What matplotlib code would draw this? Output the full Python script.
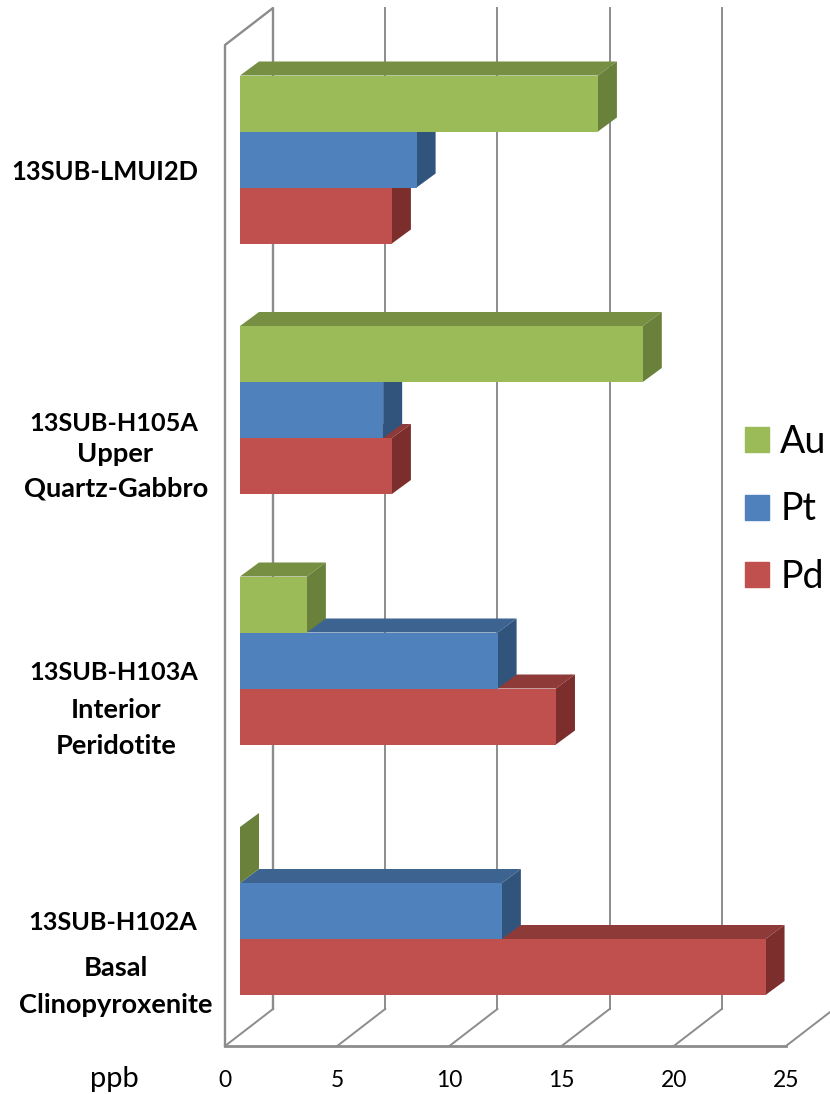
import matplotlib.pyplot as plt
from matplotlib.patches import Polygon, Patch

plt.rcParams['font.family'] = ['Lato', 'DejaVu Sans']

# Data (bottom group first)
samples = ['13SUB-H102A', '13SUB-H103A', '13SUB-H105A', '13SUB-LMUI2D']
au = [0, 2.98, 17.95, 15.95]
pt = [11.67, 11.48, 6.38, 7.87]
pd = [23.42, 14.08, 6.77, 6.77]
ticks = [0, 5, 10, 15, 20, 25]

W, H = 830, 1094
LEFT, RIGHT, FLOOR, TOP = 225, 786, 1046, 8
PX_X = (RIGHT - LEFT) / 25.0    # pixels per ppb
PX_Y = 250.5                    # pixels per category

# Depth of the 3D box and of the bars, in data units
wall_dx = 48 / PX_X
wall_dy = 37 / PX_Y
bar_dx = 19 / PX_X
bar_dy = 14 / PX_Y
bar_x0 = 15 / PX_X
bar_h = 56 / PX_Y

# colours: front, top, side
green = ('#9BBB59', '#768F43', '#6A813B')
blue = ('#4F81BD', '#3D6390', '#31547C')
red = ('#C0504D', '#8E3A38', '#7B2E2C')
grid = '#8C8C8C'

fig = plt.figure(figsize=(W / 100, H / 100), dpi=100)
ax = fig.add_axes([LEFT / W, 1 - FLOOR / H, (RIGHT - LEFT) / W, (FLOOR - TOP) / H])
ymin = (911 - FLOOR) / PX_Y
ymax = (911 - TOP) / PX_Y
ax.set_xlim(0, 25)
ax.set_ylim(ymin, ymax)

for s in ['top', 'right', 'left']:
    ax.spines[s].set_visible(False)
ax.spines['bottom'].set_color(grid)
ax.spines['bottom'].set_linewidth(2)
ax.set_yticks([])
ax.set_xticks(ticks)
ax.tick_params(axis='x', length=0, pad=17, labelsize=16.5)

# Walls and gridlines of the box
top_front = (911 - 45) / PX_Y
ax.plot([0, 0, wall_dx, wall_dx], [ymin, top_front, ymax, ymin + wall_dy], color=grid, lw=1.7, clip_on=False, zorder=1)
for t in ticks:
    if t > 0 and t < 25:
        ax.plot([t + wall_dx, t + wall_dx], [ymax, ymin + wall_dy], color=grid, lw=1.4, clip_on=False, zorder=1)
    ax.plot([t, t + wall_dx], [ymin, ymin + wall_dy], color=grid, lw=1.4, clip_on=False, zorder=1)


def bar3d(value, y, cols, z):
    x0 = bar_x0
    x1 = bar_x0 + value
    y0 = y - bar_h / 2
    y1 = y + bar_h / 2
    faces = [
        ([(x0, y1), (x1, y1), (x1 + bar_dx, y1 + bar_dy), (x0 + bar_dx, y1 + bar_dy)], cols[1]),
        ([(x1, y0), (x1 + bar_dx, y0 + bar_dy), (x1 + bar_dx, y1 + bar_dy), (x1, y1)], cols[2]),
        ([(x0, y0), (x1, y0), (x1, y1), (x0, y1)], cols[0]),
    ]
    for pts, c in faces:
        ax.add_patch(Polygon(pts, closed=True, facecolor=c, edgecolor='none', clip_on=False, zorder=z))


# Pd first, Au last, so upper bars overlap the lower ones
for i in range(len(samples)):
    bar3d(pd[i], i - bar_h, red, 2 + i * 3)
    bar3d(pt[i], i, blue, 3 + i * 3)
    bar3d(au[i], i + bar_h, green, 4 + i * 3)

# Category labels: sample ids and rock names
labels = [
    ('13SUB-LMUI2D', 105, 172, 18.4),
    ('13SUB-H105A', 114, 423, 18.2),
    ('Upper', 115, 454, 19.6),
    ('Quartz-Gabbro', 116, 488, 19.6),
    ('13SUB-H103A', 114, 672, 18.2),
    ('Interior', 116, 710, 19.6),
    ('Peridotite', 116, 746, 19.6),
    ('13SUB-H102A', 113, 923, 18.2),
    ('Basal', 116, 968, 19.6),
    ('Clinopyroxenite', 116, 1005, 19.6),
]
for txt, x, y, size in labels:
    fig.text(x / W, 1 - y / H, txt, ha='center', va='center', fontsize=size, fontweight='bold', color='black')

fig.text(114 / W, 1 - 1079 / H, 'ppb', ha='center', va='center', fontsize=21, color='black')

# Legend
handles = [Patch(color=green[0], label='Au'), Patch(color=blue[0], label='Pt'), Patch(color=red[0], label='Pd')]
fig.legend(handles=handles, loc='upper left', bbox_to_anchor=(745 / W, 1 - 424 / H), frameon=False,
           fontsize=27, handlelength=0.64, handleheight=0.64, handletextpad=0.3, labelspacing=0.835,
           borderpad=0, borderaxespad=0)

fig.savefig('out.png', dpi=100)
